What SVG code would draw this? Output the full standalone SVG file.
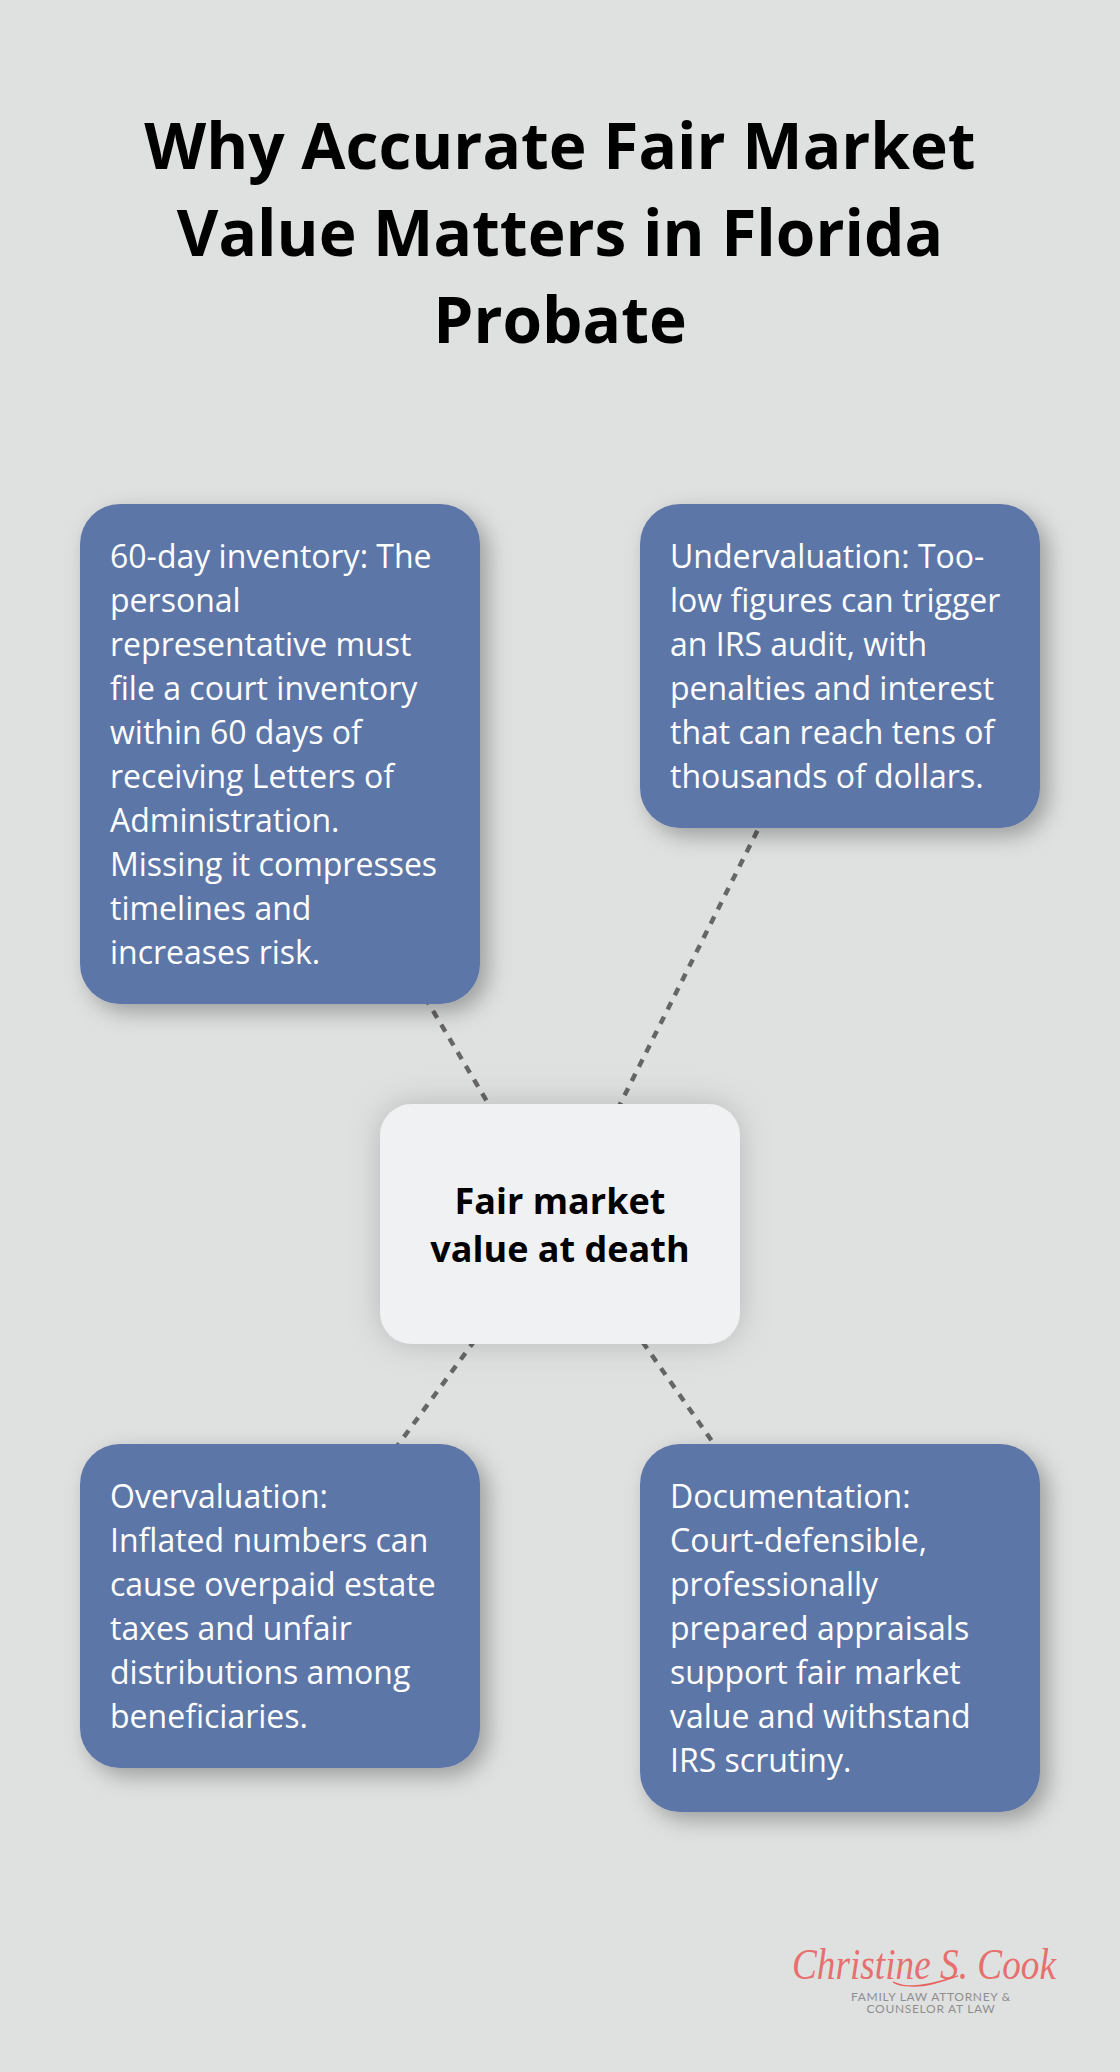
<svg xmlns="http://www.w3.org/2000/svg" width="1120" height="2072" viewBox="0 0 1120 2072">
<style>
text{font-family:"Open Sans","Noto Sans",sans-serif}
.t{font-size:64px;font-weight:700;fill:#000;text-anchor:middle}
.b{font-size:32px;fill:#fff}
.c{font-size:36px;font-weight:700;fill:#000;text-anchor:middle}
.n{fill:#5d76a8;filter:url(#s1)}
.l{stroke:#666;stroke-width:4.5;stroke-dasharray:8 8;fill:none}
.g{font-family:"Lato",sans-serif;font-size:12px;fill:#8f8f8f;text-anchor:middle;letter-spacing:.7px}
</style>
<defs>
<filter id="s1" x="-20%" y="-20%" width="140%" height="140%"><feDropShadow dx="8" dy="8" stdDeviation="11" flood-color="#000" flood-opacity=".3"/></filter>
<filter id="s2" x="-30%" y="-30%" width="160%" height="160%"><feDropShadow dx="0" dy="0" stdDeviation="16" flood-color="#000" flood-opacity=".18"/></filter>
</defs>
<rect width="1120" height="2072" fill="#dfe1e0"/>
<g id="title"><text class="t" x="560" y="169">Why Accurate Fair Market</text><text class="t" x="560" y="256">Value Matters in Florida</text><text class="t" x="560" y="343">Probate</text></g>
<g id="connectors">
<line class="l" x1="560" y1="1224" x2="280" y2="754"/>
<line class="l" x1="560" y1="1224" x2="840" y2="666"/>
<line class="l" x1="560" y1="1224" x2="280" y2="1606"/>
<line class="l" x1="560" y1="1224" x2="840" y2="1624"/>
</g>
<g id="node-inventory"><rect class="n" x="80" y="504" width="400" height="500" rx="40"/>
<text class="b" x="110" y="568">60-day inventory: The</text><text class="b" x="110" y="612">personal</text><text class="b" x="110" y="656">representative must</text><text class="b" x="110" y="700">file a court inventory</text><text class="b" x="110" y="744">within 60 days of</text><text class="b" x="110" y="788">receiving Letters of</text><text class="b" x="110" y="832">Administration.</text><text class="b" x="110" y="876">Missing it compresses</text><text class="b" x="110" y="920">timelines and</text><text class="b" x="110" y="964">increases risk.</text></g>
<g id="node-undervaluation"><rect class="n" x="640" y="504" width="400" height="324" rx="40"/>
<text class="b" x="670" y="568">Undervaluation: Too-</text><text class="b" x="670" y="612">low figures can trigger</text><text class="b" x="670" y="656">an IRS audit, with</text><text class="b" x="670" y="700">penalties and interest</text><text class="b" x="670" y="744">that can reach tens of</text><text class="b" x="670" y="788">thousands of dollars.</text></g>
<g id="node-center"><rect x="380" y="1104" width="360" height="240" rx="32" fill="#eff1f3" filter="url(#s2)"/>
<text class="c" x="560" y="1214">Fair market</text><text class="c" x="560" y="1262">value at death</text></g>
<g id="node-overvaluation"><rect class="n" x="80" y="1444" width="400" height="324" rx="40"/>
<text class="b" x="110" y="1508">Overvaluation:</text><text class="b" x="110" y="1552">Inflated numbers can</text><text class="b" x="110" y="1596">cause overpaid estate</text><text class="b" x="110" y="1640">taxes and unfair</text><text class="b" x="110" y="1684">distributions among</text><text class="b" x="110" y="1728">beneficiaries.</text></g>
<g id="node-documentation"><rect class="n" x="640" y="1444" width="400" height="368" rx="40"/>
<text class="b" x="670" y="1508">Documentation:</text><text class="b" x="670" y="1552">Court-defensible,</text><text class="b" x="670" y="1596">professionally</text><text class="b" x="670" y="1640">prepared appraisals</text><text class="b" x="670" y="1684">support fair market</text><text class="b" x="670" y="1728">value and withstand</text><text class="b" x="670" y="1772">IRS scrutiny.</text></g>
<g id="logo">
<text x="792" y="1979" font-size="44" style="font-family:'Liberation Serif',serif;font-style:italic" fill="#e8605e" fill-opacity=".9" textLength="264" lengthAdjust="spacingAndGlyphs">Christine S. Cook</text>
<path d="M893 1982C915 1992 940 1982 958 1976C930 1985 905 1990 893 1982" fill="none" stroke="#e8605e" stroke-width="1.2"/>
<text class="g" x="931" y="2001">FAMILY LAW ATTORNEY &amp;</text><text class="g" x="931" y="2013">COUNSELOR AT LAW</text>
</g>
</svg>
